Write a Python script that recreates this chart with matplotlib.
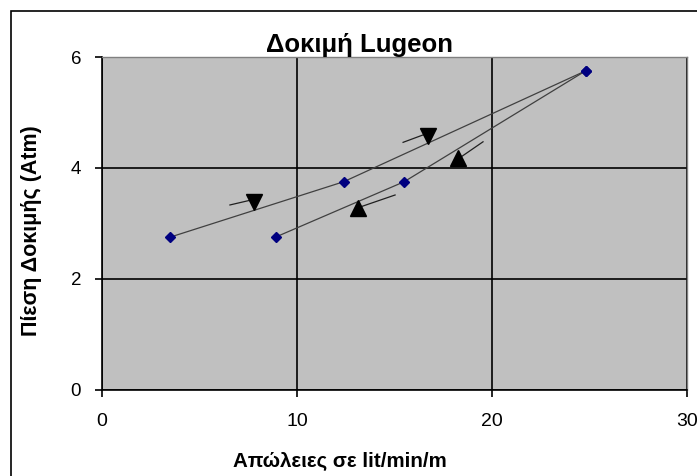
import matplotlib
matplotlib.use("Agg")
import matplotlib.pyplot as plt
from matplotlib.patches import Rectangle

plt.rcParams['font.family'] = ['Liberation Sans', 'DejaVu Sans']

# Data
loading_x = [3.5, 12.4, 24.8]
loading_y = [2.75, 3.75, 5.75]
unloading_x = [24.8, 15.5, 8.9]
unloading_y = [5.75, 3.75, 2.75]
x_ticks = [0, 10, 20, 30]
y_ticks = [0, 2, 4, 6]
title = "Δοκιμή Lugeon"
x_label = "Απώλειες σε lit/min/m"
y_label = "Πίεση Δοκιμής (Atm)"
# direction arrows: (shaft start, shaft end, head position, head marker)
arrows = [
    ((6.56, 3.33), (7.90, 3.44), (7.82, 3.39), 'v'),
    ((15.44, 4.46), (16.82, 4.64), (16.74, 4.58), 'v'),
    ((19.54, 4.47), (18.26, 4.16), (18.26, 4.17), '^'),
    ((15.03, 3.51), (13.13, 3.28), (13.13, 3.28), '^'),
]

W, H = 697, 476
fig = plt.figure(figsize=(W / 100, H / 100), dpi=100)
fig.patch.set_facecolor('white')
# outer chart frame
fig.patches.append(Rectangle((11 / W, -0.1), 1.2, 1 - 11 / H + 0.1,
                             transform=fig.transFigure, fill=False,
                             edgecolor='black', linewidth=1.2))

ax = fig.add_axes([102 / W, (H - 389.5) / H, 585 / W, 332.5 / H])
ax.set_facecolor('#c0c0c0')

ax.plot(loading_x, loading_y, color='#404040', linewidth=0.9, zorder=3)
ax.plot(unloading_x, unloading_y, color='#404040', linewidth=0.9, zorder=3)
ax.plot(loading_x + unloading_x, loading_y + unloading_y, linestyle='none',
        marker='D', markersize=5.2, color='#000080', zorder=4)

for (s, e, h, m) in arrows:
    ax.plot([s[0], e[0]], [s[1], e[1]], color='#202020', linewidth=0.9, zorder=5)
    ax.plot([h[0]], [h[1]], marker=m, markersize=12, color='black',
            linestyle='none', zorder=6)

ax.set_xlim(0, 30)
ax.set_ylim(0, 6)
ax.set_xticks(x_ticks)
ax.set_yticks(y_ticks)
ax.grid(True, color='black', linewidth=1.2, zorder=1)
ax.set_axisbelow(True)
for side in ['top', 'right']:
    ax.spines[side].set_color('#808080')
    ax.spines[side].set_linewidth(1.0)
for side in ['left', 'bottom']:
    ax.spines[side].set_color('black')
    ax.spines[side].set_linewidth(1.2)
ax.tick_params(direction='out', length=5, width=1.2, labelsize=13.5, colors='black')
ax.tick_params(axis='x', pad=12, labelsize=14)
ax.tick_params(axis='y', pad=10)

fig.text(360 / W, 1 - 52 / H, title, ha='center', va='baseline',
         fontsize=18.5, fontweight='bold')
fig.text(340 / W, 1 - 467 / H, x_label, ha='center', va='baseline',
         fontsize=14.8, fontweight='bold')
fig.text(32 / W, 1 - 231 / H, y_label, ha='center', va='center',
         fontsize=15.5, fontweight='bold', rotation=90)

fig.savefig('out.png', dpi=100)
